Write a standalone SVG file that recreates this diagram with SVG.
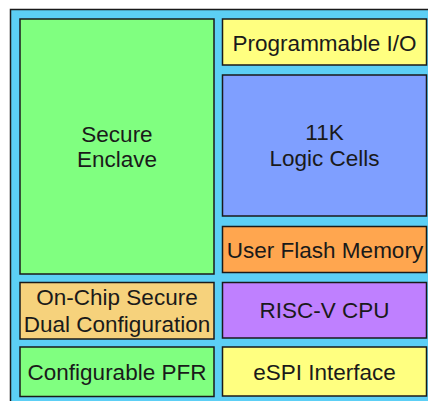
<svg xmlns="http://www.w3.org/2000/svg" width="428" height="401" viewBox="0 0 428 401">
<style>
rect{stroke:#1a1a1a;stroke-width:1.5}
text{font-family:"Liberation Sans",Arial,sans-serif;font-size:22.5px;fill:#1a1a1a;text-anchor:middle}
</style>
<rect x="0" y="0" width="428" height="401" fill="#ffffff" style="stroke:none"/>
<g id="chip"><rect x="10.5" y="9.5" width="430" height="400" fill="#5ccff5"/></g>
<g id="secure-enclave"><rect x="20" y="19" width="194" height="255" fill="#80ff80"/><text x="117" y="141.5">Secure</text><text x="117" y="166.5">Enclave</text></g>
<g id="prog-io"><rect x="222.5" y="19" width="204" height="46" fill="#ffff80"/><text x="324.5" y="50.5">Programmable I/O</text></g>
<g id="logic-cells"><rect x="222.5" y="75" width="204" height="141" fill="#7f9fff"/><text x="324.5" y="139.5">11K</text><text x="324.5" y="166">Logic Cells</text></g>
<g id="user-flash"><rect x="222.5" y="226.5" width="204" height="46" fill="#ffa64f"/><text x="325" y="257.5">User Flash Memory</text></g>
<g id="dual-config"><rect x="20" y="282.5" width="194" height="56.5" fill="#f6d27c"/><text x="117" y="305">On-Chip Secure</text><text x="117" y="331.5">Dual Configuration</text></g>
<g id="risc-v"><rect x="222.5" y="282.5" width="204" height="55.5" fill="#bf80ff"/><text x="324.5" y="318">RISC-V CPU</text></g>
<g id="pfr"><rect x="20" y="347" width="194" height="49.5" fill="#80ff80"/><text x="117" y="380">Configurable PFR</text></g>
<g id="espi"><rect x="222.5" y="347" width="204" height="49" fill="#ffff80"/><text x="324.5" y="380">eSPI Interface</text></g>
<g id="connectors"></g>
</svg>
